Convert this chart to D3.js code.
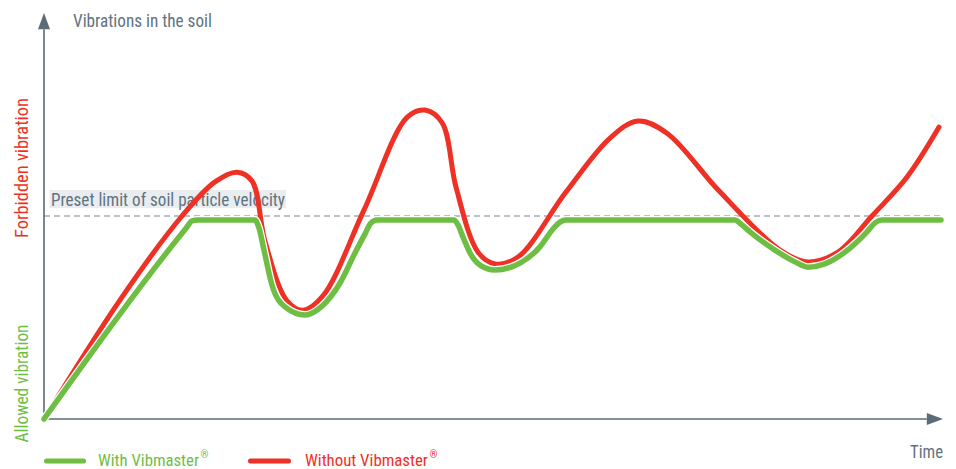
<!DOCTYPE html>
<html>
<head>
<meta charset="utf-8">
<script src="https://cdn.jsdelivr.net/npm/d3@7/dist/d3.min.js"></script>
<style>
  html, body { margin: 0; padding: 0; background: #fff; }
  svg { display: block; }
  text { font-family: "Liberation Sans Narrow", "Roboto Condensed", Roboto, "Liberation Sans", Arial, sans-serif; }
</style>
</head>
<body>
<svg id="chart" width="956" height="469"></svg>
<script>
// ---- data (x: time units 0..100, y: vibration units 0..100) ----
const limitValue = 50;

const redSeries = [
  [0, 0], [8.45, 29.3], [15.35, 50.0], [19.02, 58.4], [21.47, 60.8], [23.14, 58.6],
  [24.58, 43.8], [27.03, 29.1], [28.81, 26.8], [31.03, 30.3], [35.60, 51.5],
  [40.38, 74.3], [42.38, 76.1], [44.30, 72.9], [45.83, 57.1], [48.28, 41.1], [50.17, 38.2], [52.73, 39.9],
  [58.06, 55.9], [62.96, 69.2], [66.07, 73.4], [69.30, 70.4], [75.08, 56.2],
  [81.87, 41.6], [84.98, 38.7], [88.32, 41.1], [92.10, 50.0], [96.00, 59.6], [99.56, 71.9]
];

const greenSeries = [
  [0, 0], [15.91, 47.3], [16.46, 48.8], [17.13, 49.0],
  [23.47, 49.0], [23.92, 47.0], [24.47, 41.6], [25.36, 33.0], [26.81, 27.6], [29.03, 25.6],
  [30.92, 27.8], [32.93, 33.5], [34.59, 40.9], [35.71, 45.6], [36.37, 48.3], [37.04, 49.0],
  [45.61, 49.0], [46.05, 47.8], [46.61, 44.8], [47.39, 40.9], [48.50, 37.9], [50.17, 36.7],
  [52.95, 38.4], [55.17, 42.4], [56.62, 46.8], [57.40, 48.5], [58.06, 49.0],
  [76.86, 49.0], [77.53, 48.0], [78.53, 46.1], [81.09, 41.9], [83.54, 38.7], [84.98, 37.4],
  [86.87, 38.2], [89.10, 41.1], [91.55, 46.1], [92.44, 48.3], [93.21, 49.0], [99.78, 49.0]
];

const yAxisTitle = "Vibrations in the soil";
const xAxisTitle = "Time";
const limitLabel = "Preset limit of soil particle velocity";
const zoneLabels = ["Forbidden vibration", "Allowed vibration"];
const legendLabels = ["With Vibmaster", "Without Vibmaster"];

// ---- drawing ----
const svg = d3.select("#chart");
const x = d3.scaleLinear().domain([0, 100]).range([44, 943]);
const y = d3.scaleLinear().domain([0, 100]).range([419, 13]);

const axisColor = "#5b6b77";
const textColor = "#627380";
const red = "#ee3124";
const green = "#6fbe44";

function fitText(sel, w) {
  sel.attr("textLength", w).attr("lengthAdjust", "spacingAndGlyphs");
}

// limit label background
svg.append("rect")
  .attr("x", 49.5).attr("y", 190).attr("width", 236.5).attr("height", 18)
  .attr("fill", "#e9edf0");
svg.append("text")
  .attr("x", 51).attr("y", 206)
  .attr("font-size", 18.5).attr("fill", textColor)
  .text(limitLabel).call(fitText, 234);

// dashed limit line
svg.append("line")
  .attr("x1", x(0)).attr("x2", x(100))
  .attr("y1", y(limitValue)).attr("y2", y(limitValue))
  .attr("stroke", "#74848f").attr("stroke-width", 1.2)
  .attr("stroke-dasharray", "6,4");

// axes
svg.append("line")
  .attr("x1", x(0)).attr("x2", x(0)).attr("y1", y(0) + 1).attr("y2", y(96))
  .attr("stroke", axisColor).attr("stroke-width", 1.6);
svg.append("path")
  .attr("d", `M${x(0)},${y(100)} L${x(0) - 6},${y(96)} L${x(0) + 6},${y(96)} Z`)
  .attr("fill", axisColor);
svg.append("line")
  .attr("x1", x(0) - 0.8).attr("x2", x(98.2)).attr("y1", y(0)).attr("y2", y(0))
  .attr("stroke", axisColor).attr("stroke-width", 1.6);
svg.append("path")
  .attr("d", `M${x(100)},${y(0)} L${x(98.2)},${y(0) - 6} L${x(98.2)},${y(0) + 6} Z`)
  .attr("fill", axisColor);

// axis titles
svg.append("text").attr("x", 73).attr("y", 27)
  .attr("font-size", 18.5).attr("fill", textColor)
  .text(yAxisTitle).call(fitText, 139);
svg.append("text").attr("x", 943).attr("y", 458).attr("text-anchor", "end")
  .attr("font-size", 18.5).attr("fill", textColor)
  .text(xAxisTitle).call(fitText, 33);

// zone labels (rotated)
svg.append("text")
  .attr("transform", "translate(27.5,238) rotate(-90)")
  .attr("font-size", 18.5).attr("fill", red)
  .text(zoneLabels[0]).call(fitText, 140);
svg.append("text")
  .attr("transform", "translate(27.5,442.5) rotate(-90)")
  .attr("font-size", 18.5).attr("fill", green)
  .text(zoneLabels[1]).call(fitText, 118);

// series
const redLine = d3.line()
  .x(d => x(d[0])).y(d => y(d[1]))
  .curve(d3.curveCatmullRom.alpha(0.5));
const greenLine = d3.line()
  .x(d => x(d[0])).y(d => y(d[1]))
  .curve(d3.curveMonotoneX);

svg.append("path").datum(redSeries)
  .attr("d", redLine).attr("fill", "none")
  .attr("stroke", red).attr("stroke-width", 5)
  .attr("stroke-linecap", "round").attr("stroke-linejoin", "round");

svg.append("path").datum(greenSeries)
  .attr("d", greenLine).attr("fill", "none")
  .attr("stroke", "#fff").attr("stroke-width", 8)
  .attr("stroke-linecap", "round").attr("stroke-linejoin", "round");
svg.append("path").datum(greenSeries)
  .attr("d", greenLine).attr("fill", "none")
  .attr("stroke", green).attr("stroke-width", 5.5)
  .attr("stroke-linecap", "round").attr("stroke-linejoin", "round");

// legend
const legend = [
  { label: legendLabels[0], color: green, x1: 46.5, x2: 83.5, tx: 98, w: 101 },
  { label: legendLabels[1], color: red, x1: 250.5, x2: 288.5, tx: 305, w: 123 }
];
legend.forEach(l => {
  svg.append("line")
    .attr("x1", l.x1).attr("x2", l.x2).attr("y1", 461).attr("y2", 461)
    .attr("stroke", l.color).attr("stroke-width", 5).attr("stroke-linecap", "round");
  svg.append("text").attr("x", l.tx).attr("y", 466)
    .attr("font-size", 17).attr("fill", l.color)
    .text(l.label).call(fitText, l.w);
  svg.append("text").attr("x", l.tx + l.w + 1.5).attr("y", 458)
    .attr("font-size", 10).attr("fill", l.color)
    .text("®");
});
</script>
</body>
</html>
